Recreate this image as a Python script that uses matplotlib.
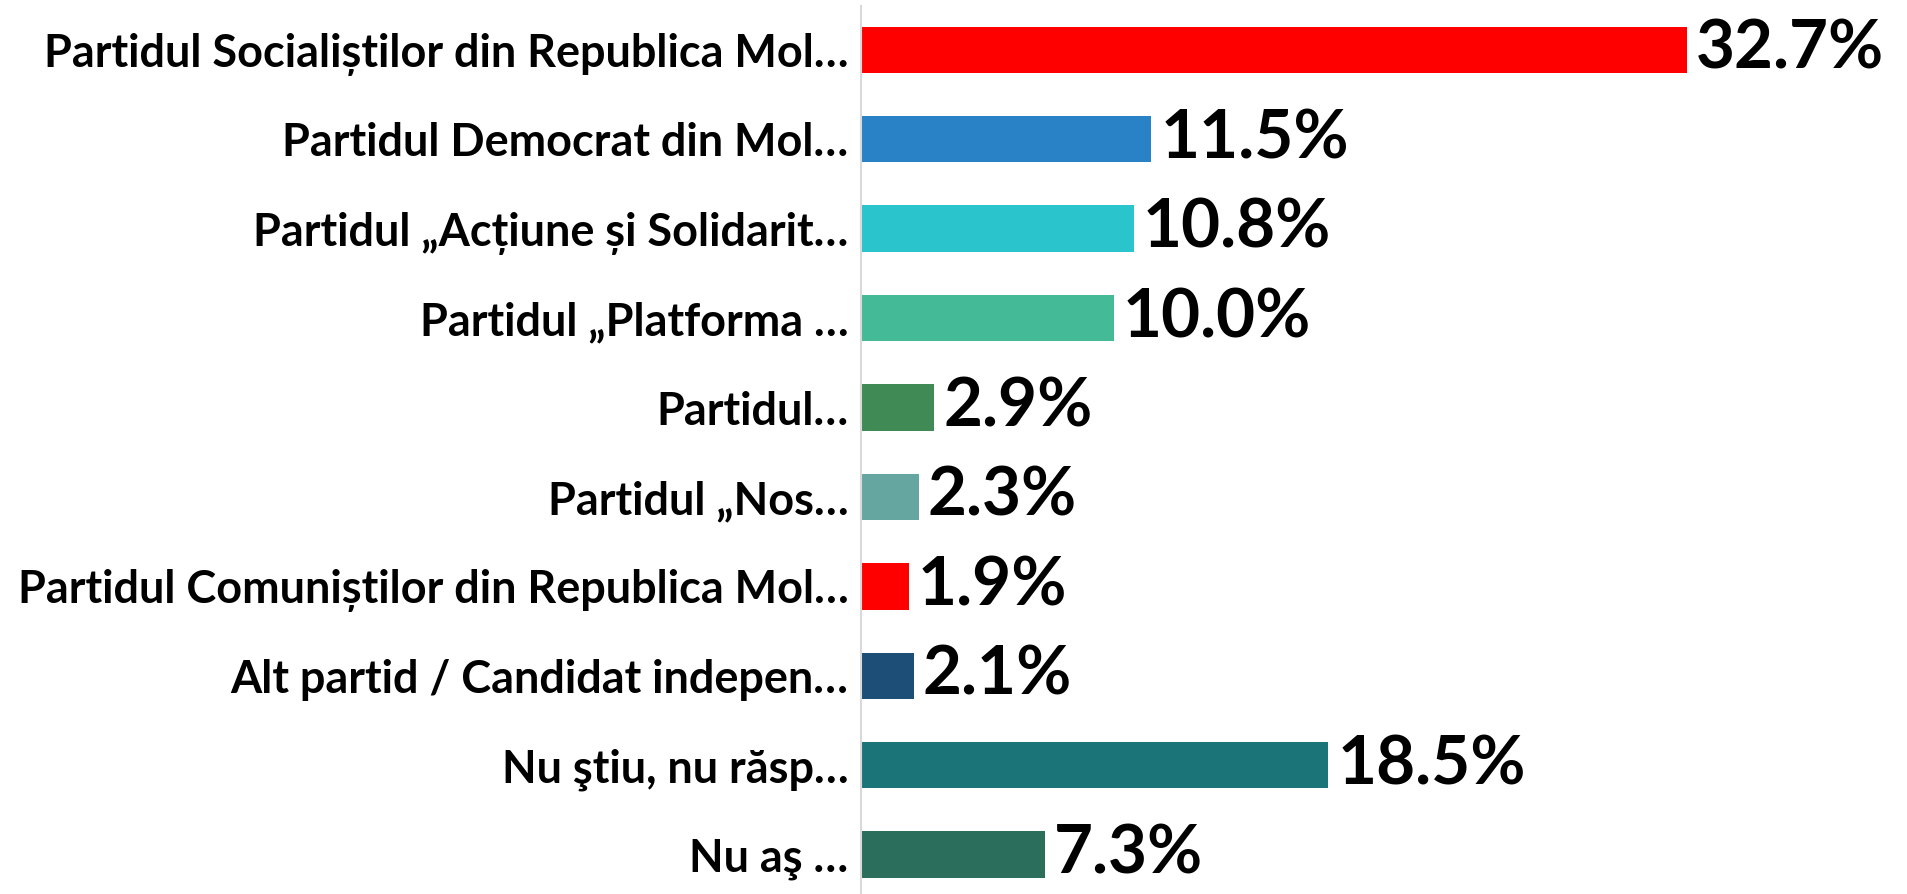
import matplotlib
matplotlib.use("Agg")
import matplotlib.pyplot as plt

parties = [
    "Partidul Socialiștilor din Republica Mol…",
    "Partidul Democrat din Mol…",
    "Partidul „Acțiune și Solidarit…",
    "Partidul „Platforma …",
    "Partidul…",
    "Partidul „Nos…",
    "Partidul Comuniștilor din Republica Mol…",
    "Alt partid / Candidat indepen…",
    "Nu ştiu, nu răsp…",
    "Nu aş …",
]
values = [32.7, 11.5, 10.8, 10.0, 2.9, 2.3, 1.9, 2.1, 18.5, 7.3]
colors = ["#FF0000", "#2A82C6", "#29C4CC", "#45BA96", "#3F8A55",
          "#66A6A0", "#FF0000", "#1C4E78", "#1B7578", "#2B6E5B"]

plt.rcParams['font.family'] = ['Lato', 'DejaVu Sans']

fig = plt.figure(figsize=(19.08, 8.94), dpi=100)
ax = fig.add_axes([861 / 1908, 0, 1 - 861 / 1908, 1 - 6 / 894])

pos = list(range(len(parties)))
ax.barh(pos, values, height=0.52, color=colors)
ax.set_xlim(0, 41.45)
ax.set_ylim(9.44, -0.49)

ax.set_yticks(pos)
ax.set_yticklabels(parties, fontsize=32.4, fontweight='bold')
ax.tick_params(axis='y', length=0, pad=9)
ax.set_xticks([])

for s in ['top', 'right', 'bottom']:
    ax.spines[s].set_visible(False)
ax.spines['left'].set_color('#D9D9D9')
ax.spines['left'].set_linewidth(1.5)

for p, v in zip(pos, values):
    ax.text(v + 0.35, p, f"{v:.1f}%", va='center', ha='left',
            fontsize=48.5, fontweight='bold', color='black')

fig.savefig("out.png", dpi=100)
